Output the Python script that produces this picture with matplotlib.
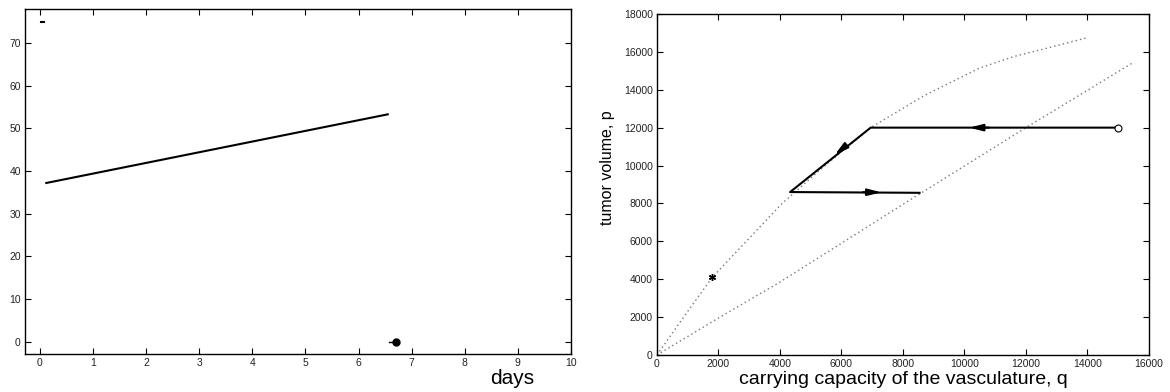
import numpy as np
import matplotlib
matplotlib.use('Agg')
from matplotlib import pyplot as plt

plt.rcParams['font.family'] = ['Liberation Sans', 'DejaVu Sans']

# left panel: data
line_days = [0.12, 6.55]
line_vals = [37.2, 53.3]
dash_day, dash_val = 0.05, 75.0
tail_days = [6.58, 6.7]
tail_vals = [0.0, 0.0]
dot_day, dot_val = 6.7, 0.0

# right panel: nullclines (dotted)
upper_q = [0, 1000, 1800, 4070, 5500, 6950, 8700, 10500, 11600, 12700, 14000]
upper_p = [0, 2300, 4100, 8000, 10050, 12000, 13700, 15150, 15750, 16200, 16750]
lower_q = [0, 2000, 4000, 8000, 12000, 15450]
lower_p = [0, 1950, 3850, 7950, 12000, 15400]

# trajectory
traj_q = [15000, 6950, 4330, 8540]
traj_p = [12000, 12000, 8600, 8560]
arrows = [  # (tail q, tail p, head q, head p)
    (10800, 12000, 10150, 12000),
    (6150, 11050, 5780, 10560),
    (6700, 8592, 7300, 8585),
]
star_q, star_p = 1800, 4100

fig = plt.figure(figsize=(11.7, 3.92), dpi=100)
ax1 = fig.add_axes([0.0214, 0.097, 0.4666, 0.880])
ax2 = fig.add_axes([0.5615, 0.0944, 0.4205, 0.870])

for ax in (ax1, ax2):
    ax.tick_params(direction='in', top=True, right=True, length=4,
                   labelsize=7.5, labelcolor='#222222', pad=3)
    for s in ax.spines.values():
        s.set_linewidth(1.0)

ax1.plot(line_days, line_vals, color='k', lw=1.5)
ax1.plot([dash_day - 0.03, dash_day + 0.03], [dash_val, dash_val], color='k', lw=1.5)
ax1.plot(tail_days, tail_vals, color='k', lw=1.0)
ax1.plot([dot_day], [dot_val], 'o', color='k', ms=5)
ax1.set_xlim(-0.28, 10)
ax1.set_ylim(-2.9, 78)
ax1.set_xticks(np.arange(0, 11, 1))
ax1.set_yticks(np.arange(0, 80, 10))
fig.text(512 / 1170, 1 - 378 / 392, 'days', fontsize=15, ha='center', va='center')

ax2.plot(upper_q, upper_p, ls=(0, (1, 2.2)), color='#777777', lw=1.0)
ax2.plot(lower_q, lower_p, ls=(0, (1, 2.2)), color='#777777', lw=1.0)
ax2.plot(traj_q, traj_p, color='k', lw=1.5)
for tq, tp, hq, hp in arrows:
    ax2.annotate('', xy=(hq, hp), xytext=(tq, tp),
                 arrowprops=dict(arrowstyle='-|>,head_length=0.8,head_width=0.2',
                                 color='k', lw=1.5, shrinkA=0, shrinkB=0))
ax2.plot([traj_q[0]], [traj_p[0]], 'o', mfc='white', mec='k', ms=5, mew=0.8)
ax2.plot([star_q], [star_p], marker=(6, 2, 0), color='k', ms=5, mew=1.0)
ax2.set_xlim(0, 16000)
ax2.set_ylim(0, 18000)
ax2.set_xticks(np.arange(0, 16001, 2000))
ax2.set_yticks(np.arange(0, 18001, 2000))
ax2.set_xlabel('carrying capacity of the vasculature, q', fontsize=14, labelpad=1)
ax2.set_ylabel('tumor volume, p', fontsize=11.5)
ax2.yaxis.set_label_coords(-0.085, 0.55)

fig.savefig('out.png', dpi=100)
